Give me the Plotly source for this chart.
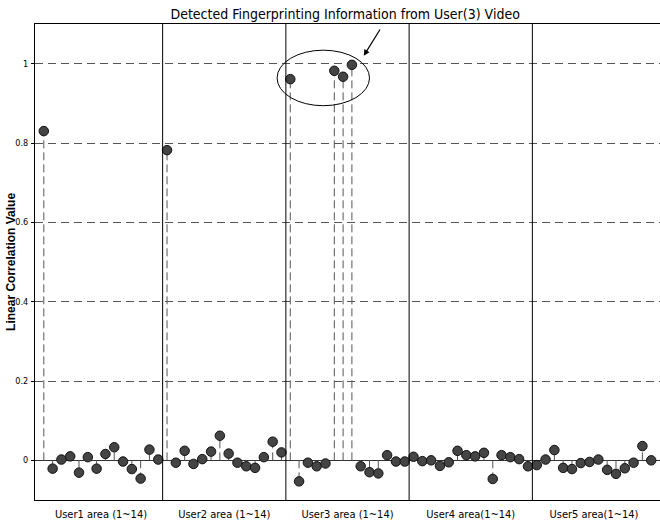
import plotly.graph_objects as go

# ---- data ----
user1 = [0.83, -0.021, 0.002, 0.010, -0.031, 0.008, -0.021, 0.016, 0.033, -0.003, -0.022, -0.046, 0.027, 0.002]
user2 = [0.782, -0.006, 0.024, -0.009, 0.003, 0.022, 0.062, 0.017, -0.006, -0.015, -0.019, 0.008, 0.047, 0.020]
user3 = [0.961, -0.053, -0.006, -0.015, -0.008, 0.982, 0.967, 0.997, -0.015, -0.030, -0.033, 0.013, -0.003, -0.003]
user4 = [0.009, -0.002, 0.000, -0.014, -0.005, 0.024, 0.013, 0.010, 0.019, -0.047, 0.013, 0.008, 0.003, -0.015]
user5 = [-0.012, 0.002, 0.026, -0.019, -0.022, -0.007, -0.004, 0.002, -0.024, -0.034, -0.020, -0.006, 0.036, 0.000]
area_labels = ["User1 area (1~14)", "User2 area (1~14)", "User3 area (1~14)",
               "User4 area(1~14)", "User5 area(1~14)"]
y_ticks = [0, 0.2, 0.4, 0.6, 0.8, 1]
y_ticktext = ["0", "0.2", "0.4", "0.6", "0.8", "1"]

values = user1 + user2 + user3 + user4 + user5
n_per = len(user1)
idx = list(range(1, len(values) + 1))

stem_x, stem_y = [], []
for i, v in zip(idx, values):
    stem_x += [i, i, None]
    stem_y += [0, v, None]

fig = go.Figure()
fig.add_trace(go.Scatter(x=stem_x, y=stem_y, mode="lines",
                         line=dict(color="#555555", width=1, dash="8px,4px"),
                         hoverinfo="skip", showlegend=False))
fig.add_trace(go.Scatter(x=idx, y=values, mode="markers",
                         marker=dict(size=9.5, color="#444444",
                                     line=dict(color="#111111", width=1)),
                         showlegend=False))

# area dividers
for k in range(1, 5):
    xb = k * n_per + 0.5
    fig.add_shape(type="line", xref="x", yref="paper", x0=xb, x1=xb, y0=0, y1=1,
                  line=dict(color="#000000", width=1))

# highlight ellipse and arrow
fig.add_shape(type="circle", xref="x", yref="y", x0=27.5, x1=38.0, y0=0.894, y1=1.034,
              line=dict(color="#000000", width=1))
fig.add_annotation(x=37.35, y=1.02, ax=39.3, ay=1.09, axref="x", ayref="y",
                   xref="x", yref="y", text="", showarrow=True,
                   arrowhead=2, arrowsize=1, arrowwidth=1.2, arrowcolor="#000000")

# y-axis title
fig.add_annotation(xref="paper", yref="paper", x=-0.0385, y=0.5,
                   xanchor="center", yanchor="middle", textangle=-90,
                   text="<b>Linear Correlation Value</b>", showarrow=False,
                   font=dict(family="Liberation Sans, Arial, sans-serif", size=12,
                             color="#000000"))

centers = [k * n_per + (n_per + 1) / 2 for k in range(5)]

fig.update_layout(
    width=660, height=525,
    margin=dict(l=35, r=0, t=24, b=25),
    paper_bgcolor="white", plot_bgcolor="white",
    title=dict(text="Detected Fingerprinting Information from User(3) Video",
               x=0.523, xanchor="center", y=0.974, yanchor="middle",
               font=dict(family="Liberation Sans Narrow, DejaVu Sans Condensed, sans-serif",
                         size=14, color="#000000")),
    font=dict(family="Liberation Sans Narrow, DejaVu Sans Condensed, sans-serif",
              color="#000000"),
)
fig.update_xaxes(range=[0, 71], showgrid=False, zeroline=False,
                 showline=True, linecolor="#000000", linewidth=1, mirror=True,
                 tickvals=centers, ticktext=area_labels, ticks="",
                 tickfont=dict(size=11), ticklabelstandoff=4)
fig.update_yaxes(range=[-0.1, 1.1], tickvals=y_ticks, ticktext=y_ticktext,
                 showgrid=True, gridcolor="#555555", gridwidth=1, griddash="8px,5px",
                 zeroline=True, zerolinecolor="#333333", zerolinewidth=1,
                 showline=True, linecolor="#000000", linewidth=1,
                 ticks="outside", ticklen=3, tickcolor="#000000",
                 tickfont=dict(size=9), ticklabelstandoff=1)

fig.write_html("out.html")
